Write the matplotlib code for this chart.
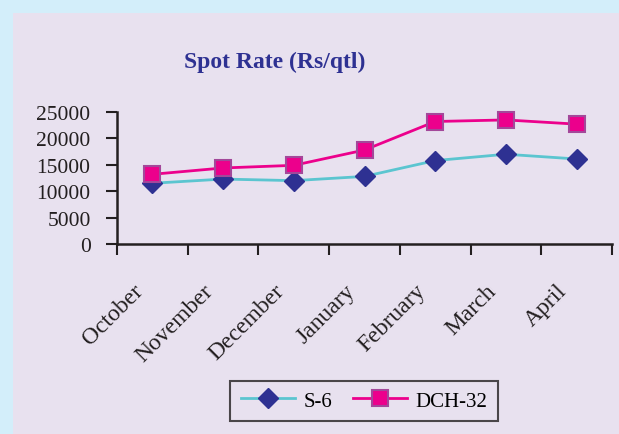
import matplotlib
matplotlib.use('Agg')
from matplotlib import pyplot as plt
from matplotlib.patches import Rectangle
from matplotlib.transforms import ScaledTranslation
import numpy as np

months = ['October', 'November', 'December', 'January', 'February', 'March', 'April']
s6 = [11500, 12300, 12000, 12800, 15800, 17000, 16100]
dch32 = [13200, 14400, 14900, 17800, 23200, 23500, 22700]

plt.rcParams['font.family'] = ['Liberation Serif', 'DejaVu Serif']

fig = plt.figure(figsize=(6.19, 4.35), dpi=100)
fig.patch.set_facecolor('#d3eefa')
fig.patches.append(Rectangle((13/619, 0), 1, 1 - 13.5/435, transform=fig.transFigure,
                             facecolor='#e8e1ef', edgecolor='none', zorder=-10))

ax = fig.add_axes([117/619, 1 - 245/435, (612 - 117)/619, (245 - 113)/435])
ax.set_facecolor('none')

x = np.arange(len(months))
ax.plot(x, s6, color='#5bc5d0', lw=2, marker='D', ms=10, mfc='#2e3192', mec='#2e3192',
        label='S-6', clip_on=False)
ax.plot(x, dch32, color='#ec008c', lw=2, marker='s', ms=11, mfc='#ec008c', mec='#a3489a',
        mew=1.5, label='DCH-32', clip_on=False)

ax.set_xlim(-0.5, len(months) - 0.5)
ax.set_ylim(0, 25000)
ax.set_yticks([0, 5000, 10000, 15000, 20000, 25000])
ax.set_xticks(x)
ax.set_xticklabels(months, rotation=45, ha='right', rotation_mode='anchor')
ax.set_xticks(np.arange(-0.5, len(months)), minor=True)
ax.tick_params(axis='x', which='major', length=0, pad=26, labelsize=17, colors='#231f20')
ax.tick_params(axis='x', which='minor', length=8, width=1.5, direction='out', color='#231f20')
ax.tick_params(axis='y', length=8, width=1.5, direction='out', labelsize=15.5,
               colors='#231f20', pad=11)
shift = ScaledTranslation(-20/100, 0, fig.dpi_scale_trans)
for lab in ax.get_xticklabels():
    lab.set_transform(lab.get_transform() + shift)
for s in ['top', 'right']:
    ax.spines[s].set_visible(False)
for s in ['left', 'bottom']:
    ax.spines[s].set_linewidth(1.8)
    ax.spines[s].set_color('#231f20')

fig.text(275/619, 1 - 62/435, 'Spot Rate (Rs/qtl)', ha='center', va='center',
         fontsize=17, fontweight='bold', color='#2e3192')

leg = fig.legend(loc='center', bbox_to_anchor=(364/619, 1 - 402/435), ncol=2,
                 fontsize=15, frameon=True, fancybox=False, handlelength=2.6,
                 columnspacing=1.0, handletextpad=0.4, borderpad=0.5)
leg.get_frame().set_edgecolor('#231f20')
leg.get_frame().set_linewidth(1.5)
leg.get_frame().set_facecolor('#e8e1ef')

fig.savefig('out.png', dpi=100, facecolor=fig.get_facecolor())
